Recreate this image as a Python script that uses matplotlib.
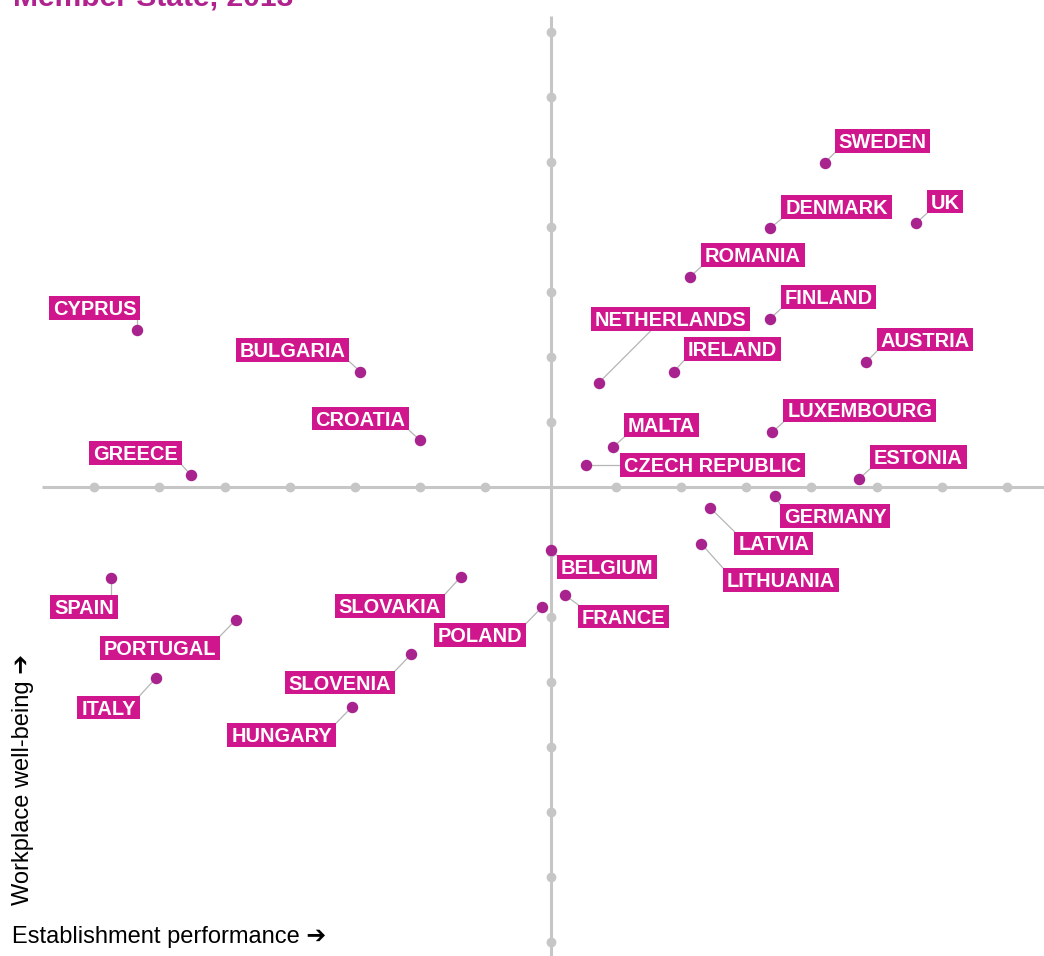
import matplotlib.pyplot as plt
from matplotlib.patches import Rectangle
from matplotlib.transforms import IdentityTransform

plt.rcParams['font.family'] = ['Liberation Sans', 'DejaVu Sans']

countries = ['SWEDEN', 'UK', 'DENMARK', 'ROMANIA', 'FINLAND', 'NETHERLANDS', 'IRELAND',
             'AUSTRIA', 'LUXEMBOURG', 'MALTA', 'CZECH REPUBLIC', 'ESTONIA', 'GERMANY',
             'LATVIA', 'LITHUANIA', 'BELGIUM', 'FRANCE', 'POLAND', 'SLOVAKIA', 'SLOVENIA',
             'HUNGARY', 'SPAIN', 'PORTUGAL', 'ITALY', 'CYPRUS', 'BULGARIA', 'CROATIA', 'GREECE']
performance = [4.20, 5.60, 3.37, 2.14, 3.36, 0.74, 1.89, 4.83, 3.40, 0.96, 0.54, 4.73, 3.44,
               2.45, 2.31, 0.00, 0.22, -0.13, -1.38, -2.14, -3.05, -6.75, -4.83, -6.06,
               -6.34, -2.92, -2.00, -5.52]
wellbeing = [4.99, 4.06, 3.99, 3.24, 2.59, 1.61, 1.78, 1.92, 0.85, 0.62, 0.35, 0.13, -0.13,
             -0.32, -0.87, -0.96, -1.66, -1.84, -1.38, -2.57, -3.38, -1.39, -2.04, -2.94,
             2.42, 1.78, 0.72, 0.19]
tick_values = [-7, -6, -5, -4, -3, -2, -1, 1, 2, 3, 4, 5, 6, 7]

# label box placement in pixels: (dx to box edge, dy to box bottom, which edge)
label_pos = {
    'SWEDEN': (10, 10, 'left'), 'UK': (11, 10, 'left'), 'DENMARK': (11, 9, 'left'),
    'ROMANIA': (11, 10, 'left'), 'FINLAND': (11, 10, 'left'),
    'NETHERLANDS': (-8, 52, 'left'), 'IRELAND': (10, 11, 'left'),
    'AUSTRIA': (11, 11, 'left'), 'LUXEMBOURG': (11, 10, 'left'), 'MALTA': (11, 10, 'left'),
    'CZECH REPUBLIC': (34, -12, 'left'), 'ESTONIA': (11, 10, 'left'),
    'GERMANY': (5, -32, 'left'), 'LATVIA': (24, -47, 'left'), 'LITHUANIA': (22, -48, 'left'),
    'BELGIUM': (6, -29, 'left'), 'FRANCE': (13, -33, 'left'),
    'POLAND': (-16, -40, 'right'), 'SLOVAKIA': (-16, -41, 'right'),
    'SLOVENIA': (-16, -40, 'right'), 'HUNGARY': (-16, -40, 'right'),
    'SPAIN': (7, -41, 'right'), 'PORTUGAL': (-16, -40, 'right'), 'ITALY': (-16, -41, 'right'),
    'CYPRUS': (3, 10, 'right'), 'BULGARIA': (-11, 10, 'right'),
    'CROATIA': (-11, 10, 'right'), 'GREECE': (-9, 10, 'right'),
}
leader_end = {'NETHERLANDS': (52, 52)}

pink = '#d0168c'
dot_col = '#a8238e'
grey = '#c6c6c6'

W, H = 1044, 956
fig = plt.figure(figsize=(W / 100, H / 100), dpi=100)
ax = fig.add_axes([0, 0, 1, 1])
ax.set_xlim(-8.446, 7.566)
ax.set_ylim(-7.211, 7.497)
ax.axis('off')

ax.plot([-7.80, 7.6], [0, 0], color=grey, lw=2.2, solid_capstyle='butt', zorder=1)
ax.plot([0, 0], [-7.3, 7.25], color=grey, lw=2.2, solid_capstyle='butt', zorder=1)
ax.scatter(tick_values, [0] * len(tick_values), s=50, color=grey, lw=0, zorder=1)
ax.scatter([0] * len(tick_values), tick_values, s=50, color=grey, lw=0, zorder=1)

ax.scatter(performance, wellbeing, s=68, color=dot_col, lw=0, zorder=5)

fig.canvas.draw()
renderer = fig.canvas.get_renderer()
ident = IdentityTransform()
padx, pady, box_h = 3.8, 4.6, 23.5

for name, px, py in zip(countries, performance, wellbeing):
    dx, dy, edge = label_pos[name]
    X, Y = ax.transData.transform((px, py))
    t = ax.text(0, 0, name, transform=ident, fontsize=14.4, fontweight='bold',
                color='white', ha='left', va='baseline', zorder=4)
    w = t.get_window_extent(renderer).width
    bw = w + 2 * padx
    left = X + dx if edge == 'left' else X + dx - bw
    bottom = Y + dy
    t.set_position((left + padx, bottom + pady))
    ax.add_patch(Rectangle((left, bottom), bw, box_h, transform=ident,
                           facecolor=pink, edgecolor='none', zorder=3))
    if name in leader_end:
        ex, ey = X + leader_end[name][0], Y + leader_end[name][1]
    else:
        ex = min(max(X, left), left + bw)
        ey = min(max(Y, bottom), bottom + box_h)
    ax.plot([X, ex], [Y, ey], transform=ident, color='#b5b5b5', lw=0.9, zorder=2)

fig.text(13 / W, (H - 6) / H, 'Member State, 2013', fontsize=21.6, fontweight='bold',
         color='#b0238f', va='baseline', ha='left')
fig.text(12 / W, 13 / H, 'Establishment performance \u2794', fontsize=17,
         color='black', va='baseline', ha='left')
fig.text(29 / W, 51 / H, 'Workplace well-being \u2794', fontsize=17, color='black',
         rotation=90, rotation_mode='anchor', va='baseline', ha='left')

fig.savefig('out.png', dpi=100)
